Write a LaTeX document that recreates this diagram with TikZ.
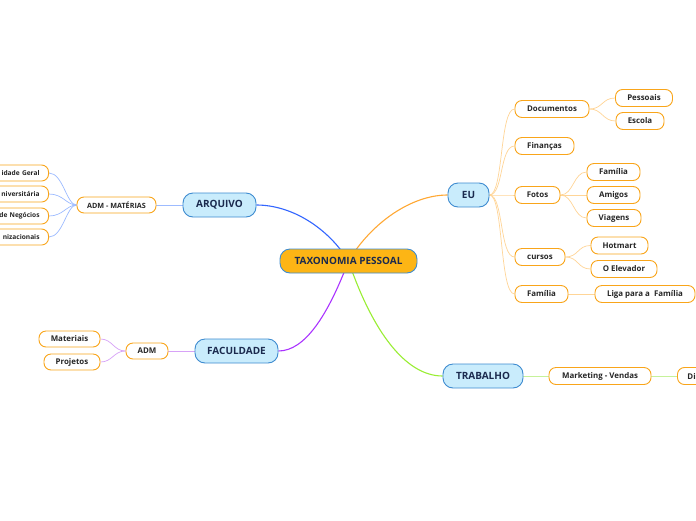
\documentclass[tikz,border=0pt]{standalone}
\usepackage{fontspec}
\setmainfont{Open Sans}
\usetikzlibrary{backgrounds}
\definecolor{amber}{HTML}{FDB515}
\definecolor{skyfill}{HTML}{C9ECFC}
\definecolor{skyline}{HTML}{3D8BD0}
\definecolor{navy}{HTML}{1B2A4E}
\definecolor{leafline}{HTML}{F9A51A}
\definecolor{cblue}{HTML}{3366FF}
\definecolor{corange}{HTML}{FFA833}
\definecolor{cpurple}{HTML}{AA33FF}
\definecolor{cgreen}{HTML}{99EE33}
\definecolor{lblue}{HTML}{9DBBFF}
\definecolor{lorange}{HTML}{FFD597}
\definecolor{lpurple}{HTML}{D7A2F7}
\definecolor{lgreen}{HTML}{C6F29A}
\tikzset{
  rootbox/.style={draw=skyline, fill=amber, line width=0.9pt, rounded corners=10pt,
    minimum height=24pt, inner sep=0pt, text=navy, font=\bfseries\fontsize{10}{11}\selectfont},
  mainbox/.style={draw=skyline, fill=skyfill, line width=0.9pt, rounded corners=10pt,
    minimum height=24pt, inner sep=0pt, text=navy, font=\bfseries\fontsize{10}{11}\selectfont},
  leafbox/.style={draw=leafline, fill=white, line width=0.9pt, rounded corners=7pt,
    minimum height=17pt, inner sep=0pt, text=black!85, font=\bfseries\fontsize{7.9}{9}\selectfont},
  smallleaf/.style={leafbox, minimum height=16pt, font=\bfseries\fontsize{7.2}{8}\selectfont},
  cutleaf/.style={smallleaf, anchor=east, text width=70pt, align=right, inner xsep=9pt,
    font=\bfseries\fontsize{6.6}{8}\selectfont},
  mainline/.style={line width=1.1pt},
  subline/.style={line width=0.7pt},
}
\begin{document}
\begin{tikzpicture}[x=1pt,y=-1pt]
\useasboundingbox (0,0) rectangle (696,520);
% root
\node[rootbox, minimum width=137pt] (tax) at (348.5,261) {TAXONOMIA PESSOAL};
% main branches
\node[mainbox, minimum width=73pt] (arq) at (219.5,205) {ARQUIVO};
\node[mainbox, minimum width=83pt] (fac) at (236.5,351) {FACULDADE};
\node[mainbox, minimum width=41pt] (eu) at (468.5,195) {EU};
\node[mainbox, minimum width=80pt] (trab) at (483,376) {TRABALHO};
% ARQUIVO side
\node[smallleaf, minimum width=79pt] (admm) at (116.5,205) {ADM - MATÉRIAS};
\node[cutleaf] (l1) at (49,173) {idade Geral};
\node[cutleaf] (l2) at (49,194) {niversitária};
\node[cutleaf] (l3) at (49,216) {de Negócios};
\node[cutleaf] (l4) at (49,237) {nizacionais};
% FACULDADE side
\node[leafbox, minimum width=42pt, minimum height=16pt] (adm) at (147,351) {ADM};
\node[leafbox, minimum width=61pt, minimum height=16pt] (mat) at (69.5,339) {Materiais};
\node[leafbox, minimum width=56pt, minimum height=16pt] (proj) at (72,362) {Projetos};
% EU side
\node[leafbox, minimum width=74pt] (doc) at (552,109) {Documentos};
\node[leafbox, minimum width=57pt] (pess) at (644,98) {Pessoais};
\node[leafbox, minimum width=48pt] (esc) at (640,121) {Escola};
\node[leafbox, minimum width=59pt] (fin) at (544.5,146) {Finanças};
\node[leafbox, minimum width=45pt] (fot) at (537.5,195) {Fotos};
\node[leafbox, minimum width=53pt] (fam1) at (613.5,172) {Família};
\node[leafbox, minimum width=53pt] (ami) at (613.5,195) {Amigos};
\node[leafbox, minimum width=54pt] (via) at (614,218) {Viagens};
\node[leafbox, minimum width=50pt] (cur) at (540,257) {cursos};
\node[leafbox, minimum width=57pt] (hot) at (619.5,245.5) {Hotmart};
\node[leafbox, minimum width=66pt] (elev) at (624,269) {O Elevador};
\node[leafbox, minimum width=53pt] (fam2) at (541.5,294) {Família};
\node[leafbox, minimum width=100pt] (liga) at (645,294) {Liga para a\ \ Família};
% TRABALHO side
\node[leafbox, minimum width=102pt] (mkt) at (600,376) {Marketing - Vendas};
\node[leafbox, anchor=west, text width=50pt, align=left, inner xsep=10pt] (div) at (677,376) {Di};
\begin{scope}[on background layer]
\fill[white] (0,0) rectangle (696,520);
% main connectors
\draw[mainline, cblue] (tax.center) .. controls (328,228) and (292,205) .. (arq.east);
\draw[mainline, corange] (tax.center) .. controls (372,222) and (412,195) .. (eu.west);
\draw[mainline, cpurple] (tax.center) .. controls (328,315) and (305,351) .. (fac.east);
\draw[mainline, cgreen] (tax.center) .. controls (372,330) and (405,376) .. (trab.west);
% ARQUIVO
\draw[subline, lblue] (arq.west) -- (admm.east);
\foreach \n in {l1,l2,l3,l4}
  \draw[subline, lblue] (admm.west) .. controls ([xshift=-10pt]admm.west) and ([xshift=14pt]\n.east) .. (\n.east);
% FACULDADE
\draw[subline, lpurple] (fac.west) -- (adm.east);
\foreach \n in {mat,proj}
  \draw[subline, lpurple] (adm.west) .. controls ([xshift=-12pt]adm.west) and ([xshift=12pt]\n.east) .. (\n.east);
% EU
\foreach \n in {doc,fin,fot,cur,fam2}
  \draw[subline, lorange] (eu.east) .. controls ([xshift=14pt]eu.east) and ([xshift=-15pt]\n.west) .. (\n.west);
\foreach \n in {pess,esc}
  \draw[subline, lorange] (doc.east) .. controls ([xshift=13pt]doc.east) and ([xshift=-13pt]\n.west) .. (\n.west);
\foreach \n in {fam1,ami,via}
  \draw[subline, lorange] (fot.east) .. controls ([xshift=13pt]fot.east) and ([xshift=-13pt]\n.west) .. (\n.west);
\foreach \n in {hot,elev}
  \draw[subline, lorange] (cur.east) .. controls ([xshift=13pt]cur.east) and ([xshift=-13pt]\n.west) .. (\n.west);
\draw[subline, lorange] (fam2.east) -- (liga.west);
% TRABALHO
\draw[subline, lgreen] (trab.east) -- (mkt.west);
\draw[subline, lgreen] (mkt.east) -- (div.west);
\end{scope}
\end{tikzpicture}
\end{document}
